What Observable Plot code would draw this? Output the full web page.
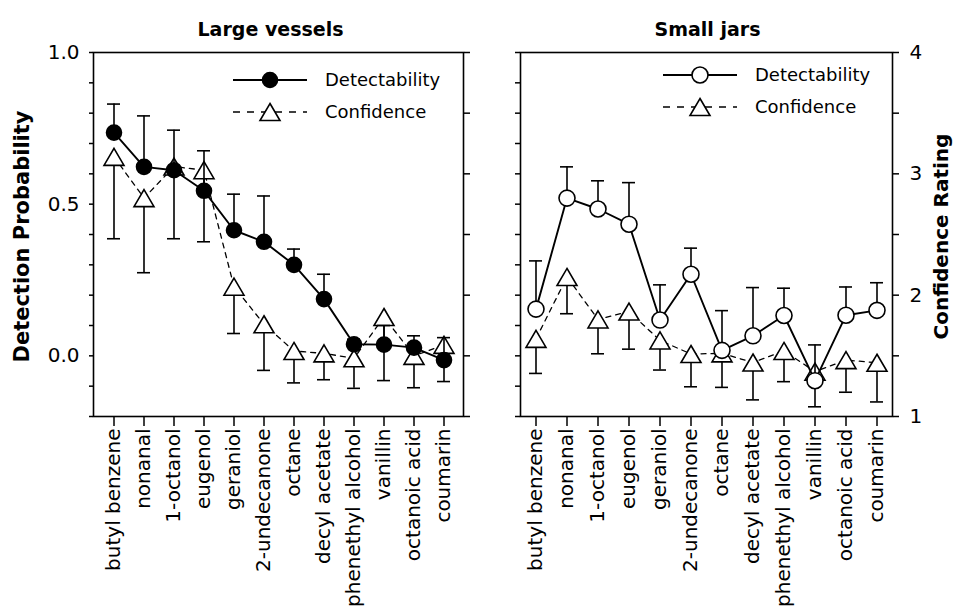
<!DOCTYPE html>
<html><head><meta charset="utf-8">
<script src="https://cdn.jsdelivr.net/npm/d3@7"></script>
<script src="https://cdn.jsdelivr.net/npm/@observablehq/plot@0.6"></script>
<style>
html,body{margin:0;padding:0;background:#fff;}
#chart{position:relative;width:953px;height:610px;overflow:hidden;font-family:"DejaVu Sans",sans-serif;background:#fff;}
#left{position:absolute;left:0;top:0;}
#right{position:absolute;left:480px;top:0;}
</style></head><body>
<div id="chart"><div id="left"></div><div id="right"></div></div>
<script>
const compounds = ["butyl benzene","nonanal","1-octanol","eugenol","geraniol","2-undecanone","octane","decyl acetate","phenethyl alcohol","vanillin","octanoic acid","coumarin"];

const largeDetection    = [0.736, 0.623, 0.612, 0.544, 0.414, 0.376, 0.300, 0.187, 0.038, 0.037, 0.027, -0.014];
const largeDetectionSE  = [0.094, 0.168, 0.132, 0.132, 0.119, 0.151, 0.052, 0.082, 0.017, 0.063, 0.039, 0.074];
const largeConfidence   = [3.14, 2.80, 3.06, 3.03, 2.07, 1.76, 1.54, 1.52, 1.48, 1.82, 1.50, 1.59];
const largeConfidenceSE = [0.675, 0.615, 0.595, 0.59, 0.386, 0.38, 0.263, 0.217, 0.248, 0.524, 0.263, 0.302];

const smallDetection    = [0.154, 0.520, 0.484, 0.434, 0.118, 0.269, 0.018, 0.066, 0.133, -0.082, 0.134, 0.150];
const smallDetectionSE  = [0.159, 0.103, 0.093, 0.137, 0.116, 0.086, 0.131, 0.159, 0.090, 0.118, 0.093, 0.091];
const smallConfidence   = [1.64, 2.15, 1.80, 1.865, 1.627, 1.515, 1.52, 1.445, 1.54, 1.37, 1.465, 1.443];
const smallConfidenceSE = [0.285, 0.303, 0.283, 0.31, 0.244, 0.27, 0.28, 0.308, 0.253, 0.29, 0.265, 0.323];

const probTicks  = [-0.2, -0.1, 0, 0.1, 0.2, 0.3, 0.4, 0.5, 0.6, 0.7, 0.8, 0.9, 1.0];
const probLabels = [0, 0.5, 1.0];
const confTicks  = [1, 1.5, 2, 2.5, 3, 3.5, 4];
const confLabels = [1, 2, 3, 4];
const titles = ["Large vessels", "Small jars"];
const seriesNames = ["Detectability", "Confidence"];
const axisTitles = ["Detection Probability", "Confidence Rating"];

// confidence rating (1..4) shares the frame with detection probability (-0.2..1)
const confToProb = c => 0.4 * (c - 1) - 0.2;
const probToConf = p => Math.round(((p + 0.2) / 0.4 + 1) * 10) / 10;

function rows(det, detSE, conf, confSE) {
  return compounds.map((name, i) => ({
    name,
    det: det[i], detHi: det[i] + detSE[i],
    conf: confToProb(conf[i]), confLo: confToProb(conf[i] - confSE[i])
  }));
}

const triangle = {draw(ctx, size) {
  const r = Math.sqrt(size / Math.PI), w = r * 2.7, h = r * 2.3;
  ctx.moveTo(0, -h / 2); ctx.lineTo(w / 2, h / 2); ctx.lineTo(-w / 2, h / 2); ctx.closePath();
}};

const FONT = "DejaVu Sans";

function panel({data, width, marginLeft, marginRight, filled, isLeft, title, titleDx, axisTitle, axisDx, axisSize}) {
  const marks = [
    Plot.axisX({tickRotate: -90, tickSize: 10, tickPadding: 2, strokeWidth: 1.5, label: null, fontSize: 20}),
    Plot.axisY({anchor: "left", ticks: probTicks, tickSize: isLeft ? 4 : 5, tickPadding: 10, strokeWidth: 1.5,
      tickFormat: isLeft ? (d => probLabels.includes(d) ? d.toFixed(1) : "") : (() => ""), label: null, fontSize: 20}),
    Plot.axisY({anchor: "right", ticks: confTicks.map(confToProb), tickSize: 6, tickPadding: 11, strokeWidth: 1.5,
      tickFormat: isLeft ? (() => "") : (p => { const c = probToConf(p); return confLabels.includes(c) ? String(c) : ""; }),
      label: null, fontSize: 20}),
    Plot.frame({stroke: "black", strokeWidth: 1.6}),
    // Confidence series
    Plot.line(data, {x: "name", y: "conf", stroke: "black", strokeWidth: 1.3, strokeDasharray: "5,5"}),
    Plot.ruleX(data, {x: "name", y1: "conf", y2: "confLo", stroke: "black", strokeWidth: 1.6}),
    Plot.tickY(data, {x: "name", y: "confLo", stroke: "black", strokeWidth: 1.6}),
    Plot.dot(data, {x: "name", y: "conf", symbol: triangle, r: 7.4, fill: "white", stroke: "black", strokeWidth: 1.6}),
    // Detectability series
    Plot.line(data, {x: "name", y: "det", stroke: "black", strokeWidth: 1.9}),
    Plot.ruleX(data, {x: "name", y1: "det", y2: "detHi", stroke: "black", strokeWidth: 1.6}),
    Plot.tickY(data, {x: "name", y: "detHi", stroke: "black", strokeWidth: 1.6}),
    Plot.dot(data, {x: "name", y: "det", r: filled ? 7.5 : 8, fill: filled ? "black" : "white", stroke: "black", strokeWidth: 1.6}),
    // titles
    Plot.text([title], {text: d => d, frameAnchor: "top", dx: titleDx, dy: -30, fontWeight: "bold", fontSize: 19, textAnchor: "middle"}),
    Plot.text([axisTitle], {text: d => d, frameAnchor: isLeft ? "left" : "right", dx: axisDx, dy: 2, rotate: -90,
      fontWeight: "bold", fontSize: axisSize, textAnchor: "middle"})
  ];
  return Plot.plot({
    width, height: 610, marginTop: 52, marginBottom: 194, marginLeft, marginRight,
    x: {type: "band", domain: compounds, paddingInner: 0.58, paddingOuter: 0.29},
    y: {domain: [-0.2, 1.0]},
    style: {fontFamily: FONT, fontSize: "20px", color: "black", background: "white", overflow: "visible"},
    marks
  });
}

function addLegend(svg, x0, y0, filled) {
  const g = d3.select(svg).append("g").attr("font-family", FONT).attr("font-size", 18).attr("text-anchor", "start");
  // Detectability row
  g.append("line").attr("x1", x0).attr("x2", x0 + 74).attr("y1", y0).attr("y2", y0)
    .attr("stroke", "black").attr("stroke-width", 1.9);
  g.append("circle").attr("cx", x0 + 37).attr("cy", y0).attr("r", filled ? 7.5 : 8)
    .attr("fill", filled ? "black" : "white").attr("stroke", "black").attr("stroke-width", 1.6);
  g.append("text").attr("x", x0 + 92).attr("y", y0).attr("dy", "0.35em").attr("text-anchor", "start").text(seriesNames[0]);
  // Confidence row
  const y1 = y0 + 32;
  g.append("line").attr("x1", x0).attr("x2", x0 + 74).attr("y1", y1).attr("y2", y1)
    .attr("stroke", "black").attr("stroke-width", 1.3).attr("stroke-dasharray", "7,7");
  const sym = d3.symbol().type(triangle).size(7.4 * 7.4 * Math.PI);
  g.append("path").attr("d", sym()).attr("transform", `translate(${x0 + 37},${y1})`)
    .attr("fill", "white").attr("stroke", "black").attr("stroke-width", 1.6);
  g.append("text").attr("x", x0 + 92).attr("y", y1).attr("dy", "0.35em").attr("text-anchor", "start").text(seriesNames[1]);
}

const leftSvg = panel({
  data: rows(largeDetection, largeDetectionSE, largeConfidence, largeConfidenceSE),
  width: 480, marginLeft: 93, marginRight: 17, filled: true, isLeft: true,
  title: titles[0], titleDx: -8, axisTitle: axisTitles[0], axisDx: -71, axisSize: 21
});
addLegend(leftSvg, 233, 80, true);
document.getElementById("left").appendChild(leftSvg);

const rightSvg = panel({
  data: rows(smallDetection, smallDetectionSE, smallConfidence, smallConfidenceSE),
  width: 473, marginLeft: 40, marginRight: 61, filled: false, isLeft: false,
  title: titles[1], titleDx: 1, axisTitle: axisTitles[1], axisDx: 49, axisSize: 20
});
addLegend(rightSvg, 183, 75, false);
document.getElementById("right").appendChild(rightSvg);
</script>
</body></html>
